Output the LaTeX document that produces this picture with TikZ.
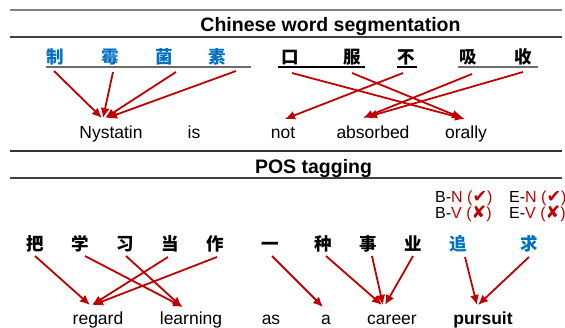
\documentclass[tikz,border=0pt]{standalone}
\usepackage{fontspec}
\setmainfont{Liberation Sans}
\newfontfamily\cjk{Noto Sans CJK SC}
\newfontfamily\symf{DejaVu Sans}
\usetikzlibrary{arrows.meta}
\definecolor{ared}{RGB}{192,0,0}
\definecolor{hblue}{RGB}{0,112,192}
\newcommand\tagmark[1]{{\symf\fontsize{17.5}{18}\selectfont #1}}

\begin{document}
\begin{tikzpicture}[x=1pt,y=-1pt,
  rule/.style={line width=1.3pt},
  zh/.style={font=\cjk\bfseries\fontsize{17.5}{17.5}\selectfont, inner sep=0pt,
             text height=15pt, text depth=2pt, anchor=center},
  zhb/.style={zh, text=hblue},
  en/.style={font=\fontsize{17.5}{18}\selectfont, inner sep=0pt, anchor=base},
  ttl/.style={font=\bfseries\fontsize{19.5}{20}\selectfont, inner sep=0pt, anchor=base},
  tag/.style={font=\fontsize{16}{17}\selectfont, inner sep=0pt, anchor=base west},
  arr/.style={draw=ared, line width=1.8pt, -{Latex[length=10pt,width=9pt]}},
  ulg/.style={draw=gray!85!black, line width=1.6pt},
  ulk/.style={draw=black, line width=1.1pt}]
\useasboundingbox (0,0) rectangle (565,327);

% section rules
\draw[rule, draw=gray] (10,10) -- (562,10);
\draw[rule, draw=black!75] (10,37) -- (562,37);
\draw[rule, draw=black!80] (10,151) -- (562,151);
\draw[rule, draw=black!75] (10,178) -- (562,178);

% titles
\node[ttl] (t1) at (330.5,31) {Chinese word segmentation};
\node[ttl] (t2) at (313.5,173) {POS tagging};

% ---------- word segmentation ----------
\node[zhb] (a1) at (55,57)  {制};
\node[zhb] (a2) at (110,57) {霉};
\node[zhb] (a3) at (164,57) {菌};
\node[zhb] (a4) at (217,57) {素};
\node[zh]  (a5) at (290,57) {口};
\node[zh]  (a6) at (352,57) {服};
\node[zh]  (a7) at (406,57) {不};
\node[zh]  (a8) at (468,57) {吸};
\node[zh]  (a9) at (523,57) {收};

\draw[ulg] ([shift={(-9,10)}]a1.center) -- ([shift={(34,10)}]a4.center);
\draw[ulk] ([shift={(-12,10)}]a5.center) -- ([shift={(13,10)}]a6.center);
\draw[ulk] ([shift={(-9,10)}]a7.center) -- ([shift={(11,10)}]a7.center);
\draw[ulg] ([shift={(-10,10)}]a8.center) -- ([shift={(15,10)}]a9.center);

\node[en] (n1) at (111,138) {Nystatin};
\node[en] (n2) at (194,138) {is};
\node[en] (n3) at (283,138) {not};
\node[en] (n4) at (373,138) {absorbed};
\node[en] (n5) at (466,138) {orally};

\draw[arr] ([shift={(-1,14)}]a1.center) -- ([shift={(-9,-20)}]n1.base);
\draw[arr] ([shift={(3,15)}]a2.center)  -- ([shift={(-8,-20)}]n1.base);
\draw[arr] ([shift={(12,15)}]a3.center) -- ([shift={(-6,-20)}]n1.base);
\draw[arr] ([shift={(19,14)}]a4.center) -- ([shift={(-4,-20)}]n1.base);
\draw[arr] ([shift={(2,16)}]a5.center)  -- ([shift={(-1,-19)}]n5.base);
\draw[arr] ([shift={(0,16)}]a6.center)  -- ([shift={(-4,-20)}]n5.base);
\draw[arr] ([shift={(-3,16)}]a7.center) -- ([shift={(2,-19)}]n3.base);
\draw[arr] ([shift={(4,17)}]a8.center)  -- ([shift={(-10,-20)}]n4.base);
\draw[arr] ([shift={(0,15)}]a9.center)  -- ([shift={(-6,-21)}]n4.base);

% ---------- POS tagging ----------
\node[tag] (g1) at (435,202) {B-\textcolor{ared}{N (\tagmark{✔})}};
\node[tag] (g2) at (509,202) {E-\textcolor{ared}{N (\tagmark{✔})}};
\node[tag] (g3) at (435,218) {B-\textcolor{ared}{V (\tagmark{✘})}};
\node[tag] (g4) at (509,218) {E-\textcolor{ared}{V (\tagmark{✘})}};

\node[zh]  (b1)  at (35,244)  {把};
\node[zh]  (b2)  at (80,244)  {学};
\node[zh]  (b3)  at (125,244) {习};
\node[zh]  (b4)  at (170,244) {当};
\node[zh]  (b5)  at (215,244) {作};
\node[zh]  (b6)  at (270,244) {一};
\node[zh]  (b7)  at (323,244) {种};
\node[zh]  (b8)  at (368,244) {事};
\node[zh]  (b9)  at (413,244) {业};
\node[zhb] (b10) at (458,244) {追};
\node[zhb] (b11) at (529,244) {求};

\node[en] (m1) at (98,324)  {regard};
\node[en] (m2) at (191,324) {learning};
\node[en] (m3) at (271,324) {as};
\node[en] (m4) at (326,324) {a};
\node[en] (m5) at (392,324) {career};
\node[en, font=\bfseries\fontsize{17.5}{18}\selectfont] (m6) at (483,324) {pursuit};

\draw[arr] ([shift={(0,12)}]b1.center)  -- ([shift={(-8,-19)}]m1.base);
\draw[arr] ([shift={(5,12)}]b2.center)  -- ([shift={(-8,-17)}]m2.base);
\draw[arr] ([shift={(1,12)}]b3.center)  -- ([shift={(-9,-17)}]m2.base);
\draw[arr] ([shift={(-2,13)}]b4.center) -- ([shift={(-6,-19)}]m1.base);
\draw[arr] ([shift={(2,13)}]b5.center)  -- ([shift={(-5,-19)}]m1.base);
\draw[arr] ([shift={(2,12)}]b6.center)  -- ([shift={(-3,-17)}]m4.base);
\draw[arr] ([shift={(3,12)}]b7.center)  -- ([shift={(-10,-19)}]m5.base);
\draw[arr] ([shift={(4,12)}]b8.center)  -- ([shift={(-9,-19)}]m5.base);
\draw[arr] ([shift={(0,12)}]b9.center)  -- ([shift={(-7,-19)}]m5.base);
\draw[arr] ([shift={(7,13)}]b10.center) -- ([shift={(-6,-19)}]m6.base);
\draw[arr] ([shift={(0,13)}]b11.center) -- ([shift={(-5,-19)}]m6.base);
\end{tikzpicture}
\end{document}
